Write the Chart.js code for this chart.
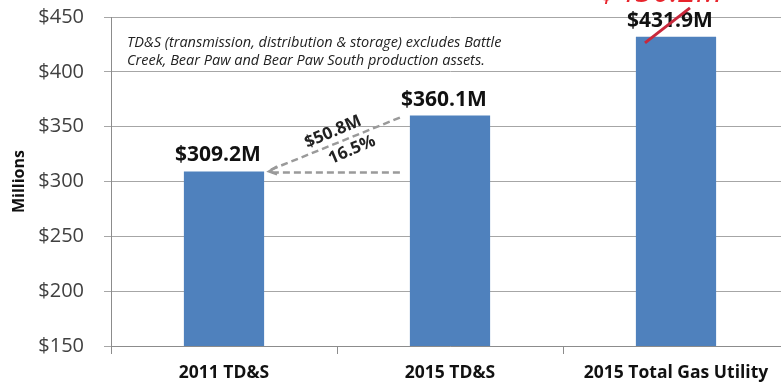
<!DOCTYPE html>
<html>
<head>
<meta charset="utf-8">
<script src="https://cdn.jsdelivr.net/npm/chart.js@4.4.0/dist/chart.umd.min.js"></script>
<style>
  html, body { margin: 0; padding: 0; background: #fff; overflow: hidden; }
  #wrap { position: relative; width: 800px; height: 385px; }
</style>
</head>
<body>
<div id="wrap"><canvas id="barChart"></canvas></div>
<script>
const categories = ['2011 TD&S', '2015 TD&S', '2015 Total Gas Utility'];
const values = [309.2, 360.1, 431.9];
const valueLabels = ['$309.2M', '$360.1M', '$431.9M'];
const yTicks = [150, 200, 250, 300, 350, 400, 450];
const noteLines = [
  'TD&S (transmission, distribution & storage) excludes Battle',
  'Creek, Bear Paw and Bear Paw South production assets.'
];
const growthLabels = ['$50.8M', '16.5%'];
const handNote = '$450.2M';

const FONT = '"Open Sans", "Liberation Sans", sans-serif';

// labels, note box, growth arrows and red pen marks
const overlay = {
  id: 'overlay',
  afterDatasetsDraw(chart) {
    const { ctx, chartArea, scales } = chart;
    const meta = chart.getDatasetMeta(0);
    ctx.save();

    // value labels above bars
    ctx.fillStyle = '#111';
    ctx.font = `bold 21px ${FONT}`;
    ctx.textAlign = 'center';
    ctx.textBaseline = 'middle';
    meta.data.forEach((bar, i) => {
      ctx.fillText(valueLabels[i], bar.x - 6, bar.y - 16);
    });

    // note text
    ctx.font = `italic 14.5px ${FONT}`;
    ctx.fillStyle = '#222';
    ctx.textAlign = 'left';
    noteLines.forEach((t, i) => ctx.fillText(t, chartArea.left + 16, 43 + i * 18));

    // dashed growth lines between bar 1 and bar 2
    const b1 = meta.data[0], b2 = meta.data[1];
    const x0 = b1.x + b1.width / 2 + 5;
    const x1 = b2.x - b2.width / 2 - 10;
    const y0 = scales.y.getPixelForValue(values[0]);
    const y1 = scales.y.getPixelForValue(values[1]);
    ctx.strokeStyle = '#9a9a9a';
    ctx.lineWidth = 2.5;
    ctx.setLineDash([7, 4]);
    ctx.beginPath();
    ctx.moveTo(x1, y1 + 2);
    ctx.lineTo(x0, y0 - 1);
    ctx.moveTo(x1, y0 + 1);
    ctx.lineTo(x0, y0 + 1);
    ctx.stroke();
    ctx.setLineDash([]);
    ctx.beginPath();
    ctx.moveTo(x0 + 8, y0 - 5);
    ctx.lineTo(x0, y0);
    ctx.lineTo(x0 + 8, y0 + 3);
    ctx.stroke();

    const ang = Math.atan2(y1 - y0, x1 - x0);
    ctx.fillStyle = '#222';
    ctx.font = `bold 17px ${FONT}`;
    ctx.textAlign = 'center';
    ctx.save();
    ctx.translate(333, 132);
    ctx.rotate(ang);
    ctx.fillText(growthLabels[0], 0, 0);
    ctx.restore();
    ctx.save();
    ctx.translate(352, 150);
    ctx.rotate(ang);
    ctx.fillText(growthLabels[1], 0, 0);
    ctx.restore();

    // red pen marks on the third bar
    const b3 = meta.data[2];
    ctx.strokeStyle = '#c8283c';
    ctx.lineWidth = 3;
    ctx.beginPath();
    ctx.moveTo(b3.x - 31, b3.y + 6);
    ctx.lineTo(b3.x + 14, b3.y - 29);
    ctx.stroke();
    ctx.fillStyle = '#e8242c';
    ctx.font = `italic 32px ${FONT}`;
    ctx.textBaseline = 'alphabetic';
    ctx.fillText(handNote, b3.x - 15, 2);

    ctx.restore();
  }
};

new Chart(document.getElementById('barChart'), {
  type: 'bar',
  data: {
    labels: categories,
    datasets: [{
      data: values,
      backgroundColor: '#4f81bd',
      borderWidth: 0,
      barPercentage: 0.355,
      categoryPercentage: 1
    }]
  },
  options: {
    responsive: true,
    maintainAspectRatio: false,
    animation: false,
    layout: { padding: { top: 17, right: 11, left: 0, bottom: 0 } },
    plugins: { legend: { display: false }, tooltip: { enabled: false } },
    scales: {
      x: {
        afterFit: s => { s.height = 39; },
        grid: { display: true, drawOnChartArea: false, offset: true, tickLength: 8, color: '#8c8c8c' },
        border: { color: '#8c8c8c' },
        ticks: { color: '#111', font: { family: FONT, size: 17.5, weight: 'bold' }, padding: 9 }
      },
      y: {
        min: 150,
        max: 450,
        afterFit: s => { s.width = 111; s.paddingTop = 0; s.paddingBottom = 0; },
        afterBuildTicks: s => { s.ticks = yTicks.map(v => ({ value: v })); },
        grid: { color: '#a6a6a6', tickLength: 7 },
        border: { color: '#8c8c8c' },
        ticks: {
          color: '#404040',
          font: { family: FONT, size: 20 },
          padding: 20,
          callback: v => '$' + v
        },
        title: {
          display: true,
          text: 'Millions',
          color: '#111',
          font: { family: FONT, size: 16, weight: 'bold' },
          padding: { top: 10, bottom: 0 }
        }
      }
    }
  },
  plugins: [overlay]
});
</script>
</body>
</html>
